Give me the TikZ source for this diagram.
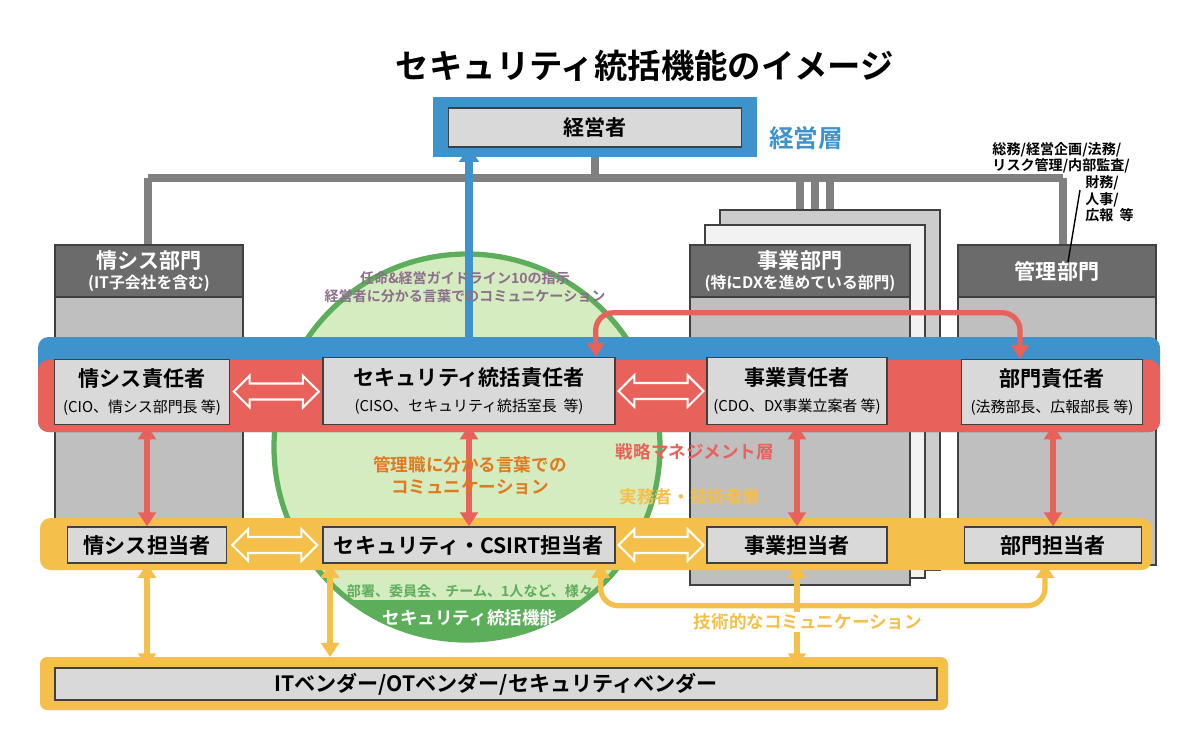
\documentclass[tikz,border=0pt]{standalone}
\usepackage{fontspec}
\setmainfont{Noto Sans CJK JP}[BoldFont={Noto Sans CJK JP Bold}]
\usetikzlibrary{arrows.meta,shapes.arrows,calc}
\definecolor{keiblue}{RGB}{62,147,204}
\definecolor{senred}{RGB}{232,97,90}
\definecolor{jitsuyel}{RGB}{245,192,74}
\definecolor{boxgray}{RGB}{217,217,217}
\definecolor{headgray}{RGB}{107,107,107}
\definecolor{edgegray}{RGB}{64,64,64}
\definecolor{bodygray}{RGB}{191,191,191}
\definecolor{circfill}{RGB}{213,235,192}
\definecolor{circline}{RGB}{93,174,91}
\definecolor{shijipurple}{RGB}{140,110,140}
\definecolor{kanriorange}{RGB}{224,122,32}

\begin{document}
\begin{tikzpicture}[x=0.02cm,y=-0.02cm,font=\bfseries,
  item/.style={draw=edgegray,fill=boxgray,line width=0.8pt,inner sep=0pt,align=center,font=\bfseries\fontsize{12}{14}\selectfont},
  head/.style={fill=headgray,draw=edgegray,line width=1.2pt,inner sep=0pt,align=center,text=white,font=\bfseries\fontsize{12}{14}\selectfont},
  body/.style={fill=bodygray,draw=edgegray,line width=1.2pt},
  swap/.style={double arrow,draw=white,line width=1.2pt,minimum width=18pt,double arrow head extend=3pt,inner sep=2.5pt},
  redarr/.style={senred,line width=3pt,{Triangle[width=10pt,length=8pt]}-{Triangle[width=10pt,length=8pt]}},
  yelarr/.style={jitsuyel,line width=3pt,{Triangle[width=10pt,length=8pt]}-{Triangle[width=10pt,length=8pt]}},
  note/.style={align=center,font=\bfseries\fontsize{8}{10}\selectfont}]
\useasboundingbox (0,0) rectangle (1200,738);

% title and top
\node[font=\bfseries\fontsize{19}{22}\selectfont] (title) at (645,66) {セキュリティ統括機能のイメージ};
\fill[keiblue] (433,97) rectangle (757,157);
\node[item,minimum width=5.86cm,minimum height=0.78cm] (ceo) at (595,127.5) {経営者};
\node[text=keiblue,font=\bfseries\fontsize{14}{16}\selectfont] (keiei) at (806,138) {経営層};

% departments
\draw[gray,line width=4pt] (595,157) -- (595,178) (148,178) -- (1063,178) (148,178) -- (148,245) (1063,178) -- (1063,245)
  (800,178) -- (800,245) (815,178) -- (815,225) (830,178) -- (830,210);
\fill[body,fill=bodygray!80] (720,210) rectangle (940,570);
\fill[body,fill=gray!10] (705,225) rectangle (925,578);
\filldraw[body] (690,245) rectangle (910,585);
\node[head,minimum width=4.4cm,minimum height=1.04cm] (jigyo) at (800,271) {事業部門\\[-3pt]{\fontsize{9}{11}\selectfont (特にDXを進めている部門)}};
\filldraw[body] (55,245) rectangle (243,565);
\node[head,minimum width=3.76cm,minimum height=1.04cm] (joshis) at (149,271) {情シス部門\\[-3pt]{\fontsize{9}{11}\selectfont (IT子会社を含む)}};
\filldraw[body] (958,245) rectangle (1156,565);
\node[head,minimum width=3.96cm,minimum height=1.04cm] (kanri) at (1057,271) {管理部門};
\node[align=left,font=\bfseries\fontsize{8}{9.5}\selectfont,anchor=north east] (kanrilist) at (1140,136) {総務/経営企画/法務/\\リスク管理/内部監査/\\\hspace*{6.6em}財務/\\\hspace*{6.6em}人事/\\\hspace*{6.6em}広報\ \ 等};
\draw[black,line width=0.8pt] (1080,190) -- (1068,262);

% circle
\fill[circfill,draw=circline,line width=3pt] (467,447) circle (193);
\begin{scope}
  \clip (467,447) circle (193);
  \fill[circline] (260,600) rectangle (680,650);
\end{scope}

% layers
\fill[keiblue,rounded corners=6pt] (38,337) rectangle (1160,432);
\fill[senred,rounded corners=6pt] (38,360) rectangle (1160,432);
\fill[jitsuyel,rounded corners=6pt] (40,518) rectangle (1152,570);
\fill[jitsuyel,rounded corners=4pt] (40,657) rectangle (948,710);

\node[item,minimum width=3.5cm,minimum height=1.3cm] (isR) at (142,392) {情シス責任者\\[1pt]{\fontsize{8.5}{10}\selectfont\mdseries (CIO、情シス部門長\ 等)}};
\node[item,minimum width=5.84cm,minimum height=1.34cm] (secR) at (469,391) {セキュリティ統括責任者\\[1pt]{\fontsize{8.5}{10}\selectfont\mdseries (CISO、セキュリティ統括室長\ \ 等)}};
\node[item,minimum width=3.6cm,minimum height=1.34cm] (bizR) at (797,391) {事業責任者\\[1pt]{\fontsize{8.5}{10}\selectfont\mdseries (CDO、DX事業立案者\ 等)}};
\node[item,minimum width=3.62cm,minimum height=1.3cm] (depR) at (1052,392) {部門責任者\\[1pt]{\fontsize{8.5}{10}\selectfont\mdseries (法務部長、広報部長\ 等)}};

\node[item,minimum width=3.18cm,minimum height=0.72cm] (isT) at (147,545) {情シス担当者};
\node[item,minimum width=5.84cm,minimum height=0.72cm] (secT) at (469,545) {セキュリティ・CSIRT担当者};
\node[item,minimum width=3.6cm,minimum height=0.72cm] (bizT) at (797,545) {事業担当者};
\node[item,minimum width=3.54cm,minimum height=0.72cm] (depT) at (1053,545) {部門担当者};

\node[item,minimum width=17.64cm,minimum height=0.64cm] (vendor) at (496,684) {ITベンダー/OTベンダー/セキュリティベンダー};

% swaps
\path (isR.east) -- node[swap,minimum height=1.7cm] (sw1) {} (secR.west);
\path (secR.east) -- node[swap,minimum height=1.7cm] (sw2) {} (bizR.west);
\path (isT.east) -- node[swap,minimum height=1.7cm] (sw3) {} (secT.west);
\path (secT.east) -- node[swap,minimum height=1.7cm] (sw4) {} (bizT.west);

% connectors
\draw[keiblue,line width=4pt,{Triangle[width=11pt,length=8pt]}-{Triangle[width=11pt,length=8pt]}] (ceo.south -| secR.north) -- (secR.north);
\draw[redarr,rounded corners=10pt] ($(secR.north east)+(-20,0)$) -- ++(0,-44) -| ($(depR.north)+(-32,0)$);
\draw[redarr] (isR.south -| isT.north) -- (isT.north);
\draw[redarr] (secR.south) -- (secT.north);
\draw[redarr] (bizR.south) -- (bizT.north);
\draw[redarr] (depR.south -| depT.north) -- (depT.north);
\draw[yelarr] (isT.south) -- (isT.south |- vendor.north);
\coordinate (vend2) at (330,657);
\draw[yelarr] (vend2 |- secT.south) -- (vend2);
\draw[yelarr] (bizT.south) -- (bizT.south |- vendor.north);
\draw[yelarr,rounded corners=10pt] ($(secT.south east)+(-15,0)$) -- ++(0,42) -| ($(depT.south)+(-8,0)$);

% labels
\node[note,text=shijipurple] (shiji) at (465,287) {任命\&経営ガイドライン10の指示\\経営者に分かる言葉でのコミュニケーション};
\node[note,text=kanriorange,font=\bfseries\fontsize{10}{12.5}\selectfont] (kanricom) at (470,476) {管理職に分かる言葉での\\コミュニケーション};
\node[note,text=senred,font=\bfseries\fontsize{10}{12}\selectfont] (senryaku) at (695,452) {戦略マネジメント層};
\node[note,text=jitsuyel,font=\bfseries\fontsize{10}{12}\selectfont] (jitsumu) at (690,497) {実務者・技術者層};
\node[note,text=circline] (busho) at (470,591) {部署、委員会、チーム、1人など、様々};
\node[note,text=white,font=\bfseries\fontsize{10}{12}\selectfont] (tokatsu) at (470,618) {セキュリティ統括機能};
\node[note,text=jitsuyel,font=\bfseries\fontsize{10}{12}\selectfont,fill=white,inner sep=1pt] (gijutsu) at (808,622) {技術的なコミュニケーション};
\end{tikzpicture}
\end{document}
